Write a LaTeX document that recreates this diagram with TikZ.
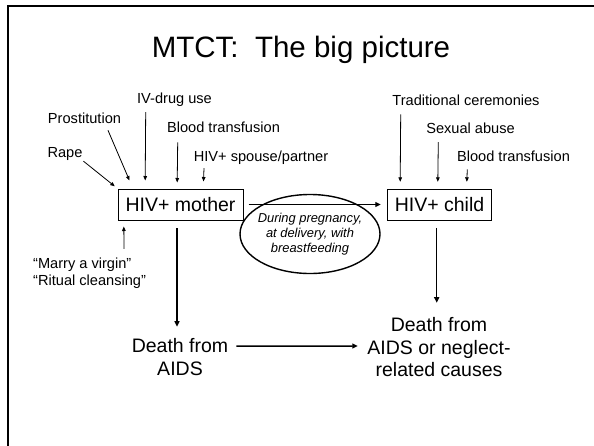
\documentclass[tikz,border=0pt]{standalone}
\usepackage{fontspec}
\setmainfont{Liberation Sans}
\usetikzlibrary{arrows.meta,shapes.geometric,calc}
\begin{document}
\begin{tikzpicture}[x=1pt,y=-1pt,
  lab/.style={font=\fontsize{14.6}{17}\selectfont, inner sep=0pt, anchor=base},
  box/.style={draw, line width=1pt, font=\fontsize{19.5}{22}\selectfont, minimum height=31pt, inner sep=0pt},
  thinarrow/.style={line width=0.8pt, -{Triangle[length=4.5pt,width=3.6pt]}},
  mainarrow/.style={line width=1.5pt, -{Triangle[length=5.5pt,width=5pt]}},
  death/.style={font=\fontsize{19.5}{22.3}\selectfont, align=center, inner sep=0pt},
  routetext/.style={font=\itshape\fontsize{12.9}{14.7}\selectfont, align=center, inner sep=0pt},
]
\useasboundingbox (0,0) rectangle (594,445);
\clip (0,0) rectangle (594,445);
\fill[white] (0,0) rectangle (594,445);
\draw[line width=2pt] (600,6) -- (7.5,6) -- (7.5,450);

% title
\node[font=\fontsize{29.5}{34}\selectfont, anchor=base, inner sep=0pt] (title) at (301,57) {MTCT:\ \ The big picture};

% boxes
\node[box, minimum width=125pt] (mother) at (180.5,204.5) {HIV+ mother};
\node[box, minimum width=104.5pt] (child) at (439.5,204.5) {HIV+ child};

% route ellipse
\node[draw, ellipse, line width=1.4pt, minimum width=140pt, minimum height=79pt, inner sep=0pt] (route) at (310,234) {};
\node[routetext] (routetxt) at (route.center) {During pregnancy,\\at delivery, with\\breastfeeding};

% outcomes
\node[death] (deathL) at (180,357.05) {Death from\\AIDS};
\node[death] (deathR) at (439,347.2) {Death from\\AIDS or neglect-\\related causes};

% mother risk labels
\node[lab] (ivdrug) at (174.5,103.3) {IV-drug use};
\node[lab] (prost) at (84.5,123.3) {Prostitution};
\node[lab] (bloodL) at (223.5,132.3) {Blood transfusion};
\node[lab] (rape) at (65,157.3) {Rape};
\node[lab] (spouse) at (261,161.3) {HIV+ spouse/partner};
\node[lab, anchor=base west] (marry) at (33,268.3) {“Marry a virgin”};
\node[lab, anchor=base west] (ritual) at (33,285.3) {“Ritual cleansing”};

% child risk labels
\node[lab] (trad) at (466,105.3) {Traditional ceremonies};
\node[lab] (sexab) at (470.5,133) {Sexual abuse};
\node[lab] (bloodR) at (513.5,161.3) {Blood transfusion};

% thin arrows to mother
\draw[thinarrow, shorten <=1pt, shorten >=3.5pt] (rape.south east) -- (mother.north west);
\draw[thinarrow] ($(prost.south)+(23.5,6.7)$) -- ($(mother.north west)+(12,-8)$);
\draw[thinarrow] ($(ivdrug.south)+(-28.8,5.6)$) -- ($(mother.north west)+(27.7,-8)$);
\draw[thinarrow] ($(bloodL.south)+(-45.8,9.7)$) -- ($(mother.north west)+(59.7,-6)$);
\draw[thinarrow] ($(spouse.south)+(-57,3.6)$) -- ($(mother.north west)+(86,-7)$);
\draw[thinarrow] ($(marry.north)+(41.8,-8.6)$) -- ($(mother.south west)+(6.3,6)$);

% thin arrows to child
\draw[thinarrow] ($(trad.south)+(-65.3,8.7)$) -- ($(child.north west)+(13.45,-6.7)$);
\draw[thinarrow] ($(sexab.south)+(-32.2,8.7)$) -- ($(child.north west)+(51.05,-6.7)$);
\draw[thinarrow] ($(bloodR.south)+(-46.2,7.7)$) -- ($(child.north west)+(80.05,-6.7)$);

% main arrows
\draw[mainarrow] ($(mother.east)+(5,0)$) -- ($(child.west)+(-6,0)$);
\draw[mainarrow] ($(mother.south)+(-3.5,7.5)$) -- ($(deathL.north)+(-3,-11.9)$);
\draw[mainarrow] ($(child.south)+(-2.8,7.3)$) -- ($(deathR.north)+(-2.3,-14.8)$);
\draw[mainarrow] ($(deathL.east)+(8,-11)$) -- ($(deathR.west)+(-9.5,-1.2)$);
\end{tikzpicture}
\end{document}
